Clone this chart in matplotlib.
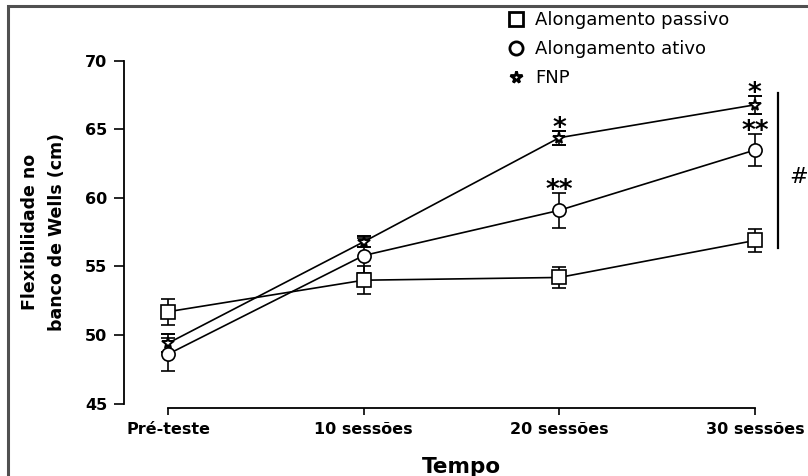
import matplotlib
matplotlib.use("Agg")
import matplotlib.pyplot as plt
from matplotlib.lines import Line2D
from matplotlib.patches import Rectangle

plt.rcParams['font.family'] = ['DejaVu Sans']

# mean +/- error per group (cm)
groups = ['Pré-teste', '10 sessões', '20 sessões', '30 sessões']
passivo = [51.7, 54.0, 54.2, 56.9]
passivo_err = [0.95, 1.0, 0.75, 0.85]
ativo = [48.6, 55.8, 59.1, 63.5]
ativo_err = [1.2, 1.3, 1.3, 1.2]
fnp = [49.4, 56.8, 64.4, 66.8]
fnp_err = [0.65, 0.4, 0.5, 0.65]

x = list(range(len(groups)))

fig = plt.figure(figsize=(8.08, 4.76), dpi=100)
ax = fig.add_axes([124/808, 72.5/476, 670/808, 342.5/476])

# outer frame of the figure panel
fig.add_artist(Rectangle((8/808, -0.05), 1.2, 1.05 - 6/476, transform=fig.transFigure,
                         fill=False, edgecolor='#505050', lw=2.2))

series = [
    (passivo, passivo_err, 's', 9.5, 1.2, 'Alongamento passivo'),
    (ativo, ativo_err, 'o', 9.5, 1.2, 'Alongamento ativo'),
    (fnp, fnp_err, '*', 8.5, 1.4, 'FNP'),
]
handles = []
for vals, errs, mk, ms, mew, lab in series:
    ax.errorbar(x, vals, yerr=errs, color='black', lw=1.2, marker=mk, ms=ms,
                mfc='white', mec='black', mew=mew, ecolor='black', elinewidth=1.2,
                capsize=4.7, capthick=1.2, clip_on=False, zorder=3)
    handles.append(Line2D([], [], ls='none', marker=mk, ms=ms, mfc='white',
                          mec='black', mew=2, label=lab))

# significance marks above the error bars
def stars(i, vals, errs, txt):
    ax.text(i, vals[i] + errs[i] - 0.39, txt, ha='center', va='baseline',
            fontsize=19, fontweight='bold', color='black')

stars(2, fnp, fnp_err, '*')
stars(2, ativo, ativo_err, '**')
stars(3, fnp, fnp_err, '*')
stars(3, ativo, ativo_err, '**')

# bracket between groups at the last session
ax.plot([3.12, 3.12], [67.66, 56.35], color='black', lw=1.6, clip_on=False)
ax.text(3.225, 61.5, '#', ha='center', va='center', fontsize=16)

ax.set_xlim(-0.225, 3.2)
ax.set_ylim(45, 70)
ax.set_xticks(x, groups)
ax.set_yticks([45, 50, 55, 60, 65, 70])

for s in ['top', 'right']:
    ax.spines[s].set_visible(False)
ax.spines['left'].set_bounds(45, 70)
ax.spines['left'].set_linewidth(1.3)
ax.spines['bottom'].set_bounds(0, 3)
ax.spines['bottom'].set_position(('outward', 3))
ax.spines['bottom'].set_linewidth(1.3)
ax.tick_params(axis='y', direction='out', length=7, width=1.2, pad=5, labelsize=11.5)
ax.tick_params(axis='x', direction='out', length=5, width=1.2, pad=5, labelsize=11.5)
for lbl in ax.get_xticklabels() + ax.get_yticklabels():
    lbl.set_fontweight('bold')

ax.set_ylabel('Flexibilidade no\nbanco de Wells (cm)', fontsize=12.5, fontweight='bold',
              linespacing=1.65)
ax.yaxis.set_label_coords(-0.0866, 0.5)
ax.set_xlabel('Tempo', fontsize=15.5, fontweight='bold')
ax.xaxis.set_label_coords(0.504, -0.155)

fig.legend(handles=handles, loc='upper left', bbox_to_anchor=(500/808, 1 - 4/476),
           frameon=False, fontsize=13, handlelength=1.0, handletextpad=0.55,
           labelspacing=0.6, borderaxespad=0)

fig.savefig('out.png', dpi=100)
